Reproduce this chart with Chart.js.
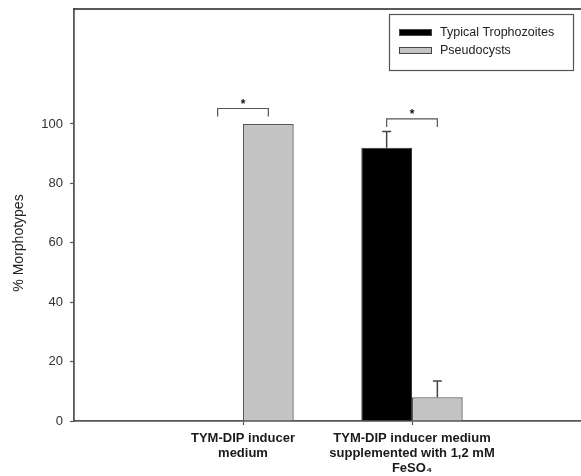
<!DOCTYPE html>
<html>
<head>
<meta charset="utf-8">
<script src="https://cdn.jsdelivr.net/npm/chart.js@4/dist/chart.umd.min.js"></script>
<style>
html,body{margin:0;padding:0;background:#fff;}
#wrap{width:581px;height:476px;position:relative;}
</style>
</head>
<body>
<div id="wrap"><canvas id="c" width="581" height="476"></canvas></div>
<script>
// ---- data ----
const categories = [
  ['TYM-DIP inducer', 'medium'],
  ['TYM-DIP inducer medium', 'supplemented with 1,2 mM', 'FeSO\u2084']
];
const seriesNames = ['Typical Trophozoites', 'Pseudocysts'];
const trophozoites = [0, 92];
const trophozoitesErr = [0, 5.5];
const pseudocysts = [100, 8];
const pseudocystsErr = [0, 5.5];
const yTicks = [0, 20, 40, 60, 80, 100];
const bracketTop = [105.2, 101.7];
const bracketBottom = [102.5, 99];
const yTitle = '% Morphotypes';

// padded category axis (empty slot on each side)
const labels = [''].concat(categories, ['']);
const pad = arr => [null].concat(arr, [null]);

const AXIS = '#555';

const overlay = {
  id: 'overlay',
  afterDatasetsDraw(chart) {
    const ctx = chart.ctx;
    const ys = chart.scales.y, ca = chart.chartArea;
    ctx.save();
    // top frame line
    ctx.strokeStyle = '#222'; ctx.lineWidth = 1.5;
    ctx.beginPath(); ctx.moveTo(ca.left, ca.top); ctx.lineTo(ca.right, ca.top); ctx.stroke();

    // error bars (upper only)
    const errs = [trophozoitesErr, pseudocystsErr];
    const vals = [trophozoites, pseudocysts];
    ctx.strokeStyle = '#444'; ctx.lineWidth = 1.5;
    for (let d = 0; d < 2; d++) {
      const meta = chart.getDatasetMeta(d);
      for (let i = 0; i < categories.length; i++) {
        const e = errs[d][i];
        if (!e) continue;
        const x = meta.data[i + 1].x;
        const y0 = ys.getPixelForValue(vals[d][i]);
        const y1 = ys.getPixelForValue(vals[d][i] + e);
        ctx.beginPath();
        ctx.moveTo(x, y0); ctx.lineTo(x, y1);
        ctx.moveTo(x - 4.5, y1); ctx.lineTo(x + 4.5, y1);
        ctx.stroke();
      }
    }

    // significance brackets
    ctx.strokeStyle = '#555'; ctx.lineWidth = 1.2;
    ctx.fillStyle = '#111';
    const m0 = chart.getDatasetMeta(0), m1 = chart.getDatasetMeta(1);
    for (let i = 0; i < categories.length; i++) {
      const xa = m0.data[i + 1].x, xb = m1.data[i + 1].x;
      const yt = ys.getPixelForValue(bracketTop[i]);
      const yb = ys.getPixelForValue(bracketBottom[i]);
      ctx.beginPath();
      ctx.moveTo(xa, yb); ctx.lineTo(xa, yt); ctx.lineTo(xb, yt); ctx.lineTo(xb, yb);
      ctx.stroke();
      ctx.font = 'bold 12px "Liberation Sans", Arial, sans-serif';
      ctx.textAlign = 'center'; ctx.textBaseline = 'middle';
      ctx.fillText('*', (xa + xb) / 2, yt - 4);
    }

    // legend box
    const lx = 389, ly = 14, lw = 184, lh = 56;
    ctx.strokeStyle = '#555'; ctx.lineWidth = 1.2;
    ctx.strokeRect(lx + 0.5, ly + 0.5, lw, lh);
    chart.data.datasets.forEach((ds, k) => {
      const sy = ly + 15 + k * 18;
      ctx.fillStyle = ds.backgroundColor;
      ctx.fillRect(lx + 10, sy, 33, 7);
      ctx.strokeStyle = '#444'; ctx.lineWidth = 1;
      ctx.strokeRect(lx + 10.5, sy + 0.5, 32, 6);
      ctx.fillStyle = '#222';
      ctx.font = '12.5px "Liberation Sans", Arial, sans-serif';
      ctx.textAlign = 'left'; ctx.textBaseline = 'middle';
      ctx.fillText(ds.label, lx + 51, sy + 4);
    });

    // y title
    ctx.save();
    ctx.translate(19, 243);
    ctx.rotate(-Math.PI / 2);
    ctx.fillStyle = '#222';
    ctx.font = '14px "Liberation Sans", Arial, sans-serif';
    ctx.textAlign = 'center'; ctx.textBaseline = 'middle';
    ctx.fillText(yTitle, 0, 0);
    ctx.restore();
    ctx.restore();
  }
};

new Chart(document.getElementById('c'), {
  type: 'bar',
  data: {
    labels: labels,
    datasets: [
      { label: seriesNames[0], data: pad(trophozoites), backgroundColor: '#000000', borderColor: '#333', borderWidth: 1 },
      { label: seriesNames[1], data: pad(pseudocysts), backgroundColor: '#c3c3c3', borderColor: '#555', borderWidth: 1.3 }
    ]
  },
  options: {
    responsive: false,
    animation: false,
    devicePixelRatio: 1,
    layout: { padding: { top: 9, right: -3, left: 0, bottom: 0 } },
    plugins: { legend: { display: false }, tooltip: { enabled: false } },
    datasets: { bar: { categoryPercentage: 0.6, barPercentage: 1.0 } },
    scales: {
      x: {
        offset: false,
        grid: {
          offset: false,
          drawOnChartArea: false,
          tickLength: 4,
          tickColor: c => (c.index === 0 || c.index === labels.length - 1) ? 'rgba(0,0,0,0)' : AXIS,
          tickWidth: 1.2
        },
        border: { color: AXIS, width: 1.8 },
        ticks: {
          autoSkip: false, maxRotation: 0, padding: 6,
          color: '#1a1a1a',
          font: { family: '"Liberation Sans", Arial, sans-serif', size: 13, weight: 'bold', lineHeight: '15px' }
        },
        afterFit: s => { s.height = 55; s.paddingLeft = 0; s.paddingRight = 0; }
      },
      y: {
        min: 0, max: 138.7,
        afterBuildTicks: s => { s.ticks = yTicks.map(v => ({ value: v })); },
        grid: { drawOnChartArea: false, tickLength: 4, tickColor: AXIS, tickWidth: 1.2 },
        border: { color: AXIS, width: 1.8 },
        ticks: {
          padding: 7, color: '#333',
          font: { family: '"Liberation Sans", Arial, sans-serif', size: 13 }
        },
        afterFit: s => { s.width = 74; s.paddingTop = 0; s.paddingBottom = 0; }
      }
    }
  },
  plugins: [overlay]
});
</script>
</body>
</html>
